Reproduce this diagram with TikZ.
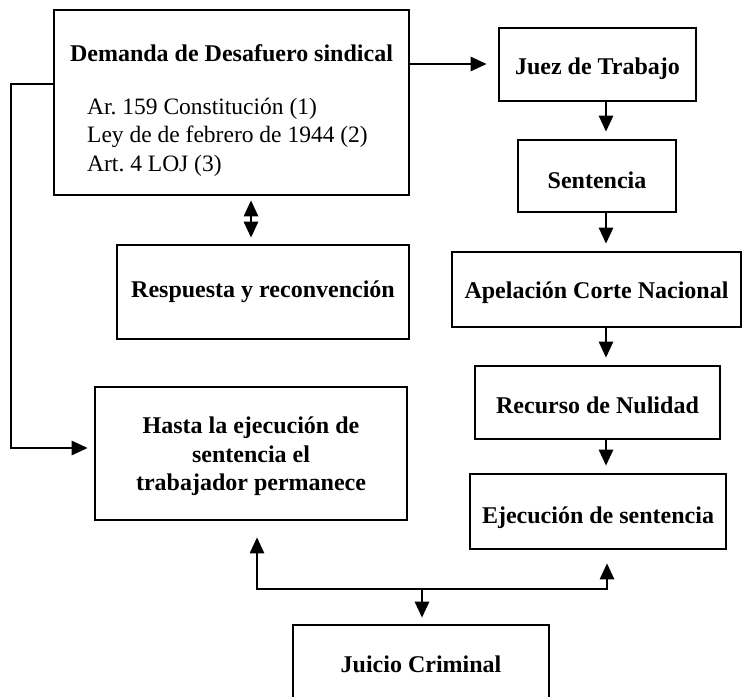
\documentclass[tikz,border=0pt]{standalone}
\usepackage{fontspec}
\setmainfont{Liberation Serif}
\usetikzlibrary{arrows.meta}
\frenchspacing
\newcommand\lowertxt[2]{\raisebox{-#1}[\height][\depth]{#2}}
\begin{document}
\begin{tikzpicture}[x=1pt,y=-1pt,
  box/.style={draw,line width=2.6pt,inner sep=0pt,align=center,
    font=\bfseries\fontsize{24}{28.5}\selectfont},
  lbl/.style={inner sep=0pt,align=center,font=\bfseries\fontsize{24}{28.5}\selectfont},
  arr/.style={line width=2.6pt,-{Triangle[length=16pt,width=14pt]}},
  darr/.style={line width=2.6pt,{Triangle[length=16pt,width=14pt]}-{Triangle[length=16pt,width=14pt]}}]
\useasboundingbox (0,0) rectangle (743,696);
\clip (0,0) rectangle (743,696);
\fill[white] (0,0) rectangle (743,696);

\node[box,minimum width=355pt,minimum height=185pt] (dem) at (231.5,102.5) {};
\node[lbl] (demt) at (231.5,53) {Demanda de Desafuero sindical};
\node[inner sep=0pt,anchor=west,align=left,font=\fontsize{23.5}{28.5}\selectfont] (deml) at (87,137)
  {Ar. 159 Constitución (1)\\Ley de de febrero de 1944 (2)\\Art. 4 LOJ (3)};

\node[box,minimum width=197pt,minimum height=73pt] (juez) at (597.5,64.5) {\lowertxt{4pt}{Juez de Trabajo}};
\node[box,minimum width=158pt,minimum height=72pt] (sen) at (597,176) {\lowertxt{4pt}{Sentencia}};
\node[box,minimum width=289pt,minimum height=75pt] (apel) at (596.5,289.5) {\lowertxt{3pt}{Apelación Corte Nacional}};
\node[box,minimum width=245pt,minimum height=73pt] (rec) at (597.5,402.5) {\lowertxt{3pt}{Recurso de Nulidad}};
\node[box,minimum width=256pt,minimum height=75pt] (eje) at (598,511.5) {\lowertxt{6pt}{Ejecución de sentencia}};
\node[box,minimum width=292pt,minimum height=94pt] (resp) at (263,292) {Respuesta y reconvención};
\node[box,minimum width=312pt,minimum height=133pt] (hasta) at (251,453.5) {};
\node[lbl] (hastat) at (251,456.5) {Hasta la ejecución de\\sentencia el\\trabajador permanece};
\node[box,minimum width=256pt,minimum height=78pt] (jui) at (421,664) {Juicio Criminal};

\coordinate (colx) at (606,0);
\coordinate (dy) at (0,64);
\draw[arr,shorten >=11pt] (dy -| dem.east) -- (dy -| juez.west);
\draw[arr,shorten >=7pt] (juez.south -| colx) -- (sen.north -| colx);
\draw[arr,shorten >=7pt] (sen.south -| colx) -- (apel.north -| colx);
\draw[arr,shorten >=7pt] (apel.south -| colx) -- (rec.north -| colx);
\draw[arr,shorten >=7pt] (rec.south -| colx) -- (eje.north -| colx);

\coordinate (c1) at (11,84);
\coordinate (c2) at (11,448);
\draw[arr,shorten >=6pt] (c1 -| dem.west) -- (c1) -- (c2) -- (c2 -| hasta.west);

\coordinate (dx) at (251,0);
\draw[darr,shorten <=4pt,shorten >=6pt] (dem.south -| dx) -- (resp.north -| dx);

\coordinate (bl) at (257,589);
\coordinate (br) at (607,589);
\coordinate (bm) at (422,589);
\draw[darr,shorten <=16pt,shorten >=13pt] (bl |- hasta.south) -- (bl) -- (br) -- (br |- eje.south);
\draw[arr,shorten >=6pt] (bm) -- (bm |- jui.north);
\end{tikzpicture}
\end{document}
